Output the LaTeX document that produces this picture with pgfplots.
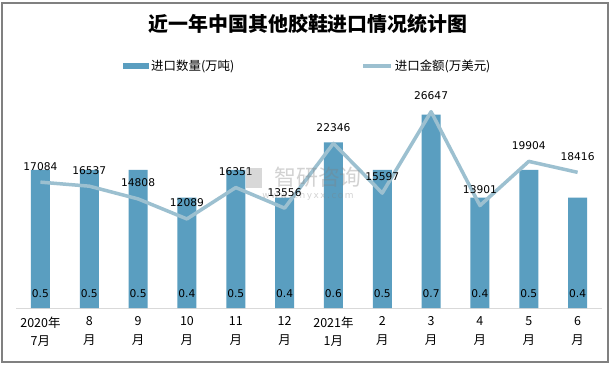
\documentclass[border=0pt]{standalone}
\usepackage{pgfplots}
\pgfplotsset{compat=1.18}
\usepackage{fontspec}
\setmainfont{DejaVu Sans}
\newfontfamily\cjk{Noto Sans CJK SC}
\definecolor{barcol}{HTML}{5A9EC0}
\definecolor{linecol}{HTML}{9CC0D0}
\definecolor{framecol}{HTML}{808080}
\definecolor{basecol}{HTML}{D9D9D9}
\begin{document}
\begin{tikzpicture}[x=1bp,y=1bp]
\useasboundingbox (0,0) rectangle (615,368);
\fill[white] (0,0) rectangle (615,368);
\draw[framecol, line width=1.2bp] (2,6) rectangle (608,365);
\node[font=\cjk\bfseries\fontsize{20}{22}\selectfont] at (308,344) {近一年中国其他胶鞋进口情况统计图};
\begin{axis}[at={(16bp,60bp)}, anchor=south west, scale only axis, width=586bp, height=221bp,
  xmin=-0.5, xmax=11.5, ymin=0, ymax=0.8,
  axis y line=none, axis x line*=bottom,
  x axis line style={basecol, line width=1bp, -},
  xtick={0,...,11},
  xticklabels={{2020年\\7月},{8\\月},{9\\月},{10\\月},{11\\月},{12\\月},{2021年\\1月},{2\\月},{3\\月},{4\\月},{5\\月},{6\\月}},
  xtick style={draw=none},
  xticklabel style={font=\cjk\fontsize{12.5}{19}\selectfont, align=center, yshift=-5bp},
  legend style={at={(0.498,1.096)}, anchor=center, draw=none, fill=none, legend columns=2,
    font=\cjk\fontsize{12.5}{15}\selectfont,
    /tikz/every even column/.append style={column sep=125bp}},
  clip=false]
\addplot[ybar, bar width=19bp, bar shift=0pt, fill=barcol, draw=none,
  legend image code/.code={\fill[barcol] (0bp,-3bp) rectangle (26bp,3bp);}]
  coordinates {(0,0.5) (1,0.5) (2,0.5) (3,0.4) (4,0.5) (5,0.4) (6,0.6) (7,0.5) (8,0.7) (9,0.4) (10,0.5) (11,0.4)};
\addlegendentry{进口数量(万吨)}
\addlegendimage{legend image code/.code={\draw[linecol, line width=3.5bp] (0bp,0bp) -- (28bp,0bp);}}
\addlegendentry{进口金额(万美元)}
\addplot[draw=none, mark=none, forget plot, nodes near coords, point meta=explicit symbolic,
  every node near coord/.append style={font=\fontsize{10.7}{12}\selectfont, anchor=center, yshift=14bp, text=black}]
  coordinates {(0,0)[0.5] (1,0)[0.5] (2,0)[0.5] (3,0)[0.4] (4,0)[0.5] (5,0)[0.4] (6,0)[0.6] (7,0)[0.5] (8,0)[0.7] (9,0)[0.4] (10,0)[0.5] (11,0)[0.4]};
\end{axis}
\begin{axis}[at={(16bp,60bp)}, anchor=south west, scale only axis, width=586bp, height=221bp,
  xmin=-0.5, xmax=11.5, ymin=0, ymax=30000, hide axis, clip=false]
\addplot[linecol, line width=3.5bp, mark=none, line join=round, nodes near coords, point meta=explicit symbolic,
  every node near coord/.append style={font=\fontsize{10.7}{12}\selectfont, anchor=center, yshift=16bp, text=black}]
  coordinates {(0,17084)[17084] (1,16537)[16537] (2,14808)[14808] (3,12089)[12089] (4,16351)[16351] (5,13556)[13556] (6,22346)[22346] (7,15597)[15597] (8,26647)[26647] (9,13901)[13901] (10,19904)[19904] (11,18416)[18416]};
\end{axis}
\node[font=\cjk\fontsize{22}{24}\selectfont, text=gray, opacity=0.35] at (318,191) {智研咨询};
\fill[gray, opacity=0.3] (246,180) rectangle (262,200);
\node[font=\fontsize{9}{10}\selectfont, text=gray, opacity=0.35] at (308,172) {w\,w\,w\,.\,c\,h\,y\,x\,x\,.\,c\,o\,m};
\end{tikzpicture}
\end{document}
